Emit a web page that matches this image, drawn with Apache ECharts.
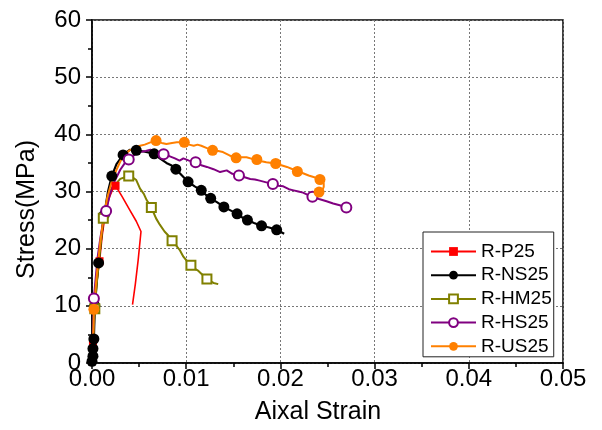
<!DOCTYPE html>
<html>
<head>
<meta charset="utf-8">
<script src="https://cdn.jsdelivr.net/npm/echarts@6/dist/echarts.min.js"></script>
<style>
  html, body { margin: 0; padding: 0; background: #fff; }
  #chart { width: 602px; height: 430px; }
</style>
</head>
<body>
<div id="chart"></div>
<script>
// strain / stress data
const seriesNames = ['R-P25', 'R-NS25', 'R-HM25', 'R-HS25', 'R-US25'];
const xTicks = ['0.00', '0.01', '0.02', '0.03', '0.04', '0.05'];
const yTicks = [0, 10, 20, 30, 40, 50, 60];

const pCurve = [[0,0],[0.0001,3.3],[0.0003,9.6],[0.0005,14],[0.0008,17.8],[0.0011,22.5],[0.0014,26],
  [0.0018,28.8],[0.0022,30.4],[0.0025,31.0],[0.0032,29.1],[0.0040,26.8],[0.0047,24.8],[0.0052,23.0],
  [0.0049,18.0],[0.0046,13.8],[0.0043,10.2]];
const pMarks = [[0.0001,3.3],[0.0008,17.8],[0.0025,31.0]];

const nsCurve = [[0,0],[0.0000,0.3],[0.0001,1.2],[0.0001,2.5],[0.0002,4.2],[0.0003,10.0],[0.0005,14.2],
  [0.0007,17.5],[0.0010,22.3],[0.0013,25.9],[0.0017,30.0],[0.0021,32.7],[0.0026,34.8],[0.0033,36.4],
  [0.0040,37.3],[0.0047,37.2],[0.0055,37.0],[0.0061,36.8],[0.0066,36.6],[0.0072,35.8],[0.0079,35.0],
  [0.0084,34.6],[0.0089,33.9],[0.0095,32.9],[0.0102,31.7],[0.0109,30.9],[0.0116,30.2],[0.0121,29.4],
  [0.0126,28.8],[0.0133,28.1],[0.0140,27.3],[0.0147,26.7],[0.0154,26.1],[0.0159,25.5],[0.0165,25.0],
  [0.0172,24.5],[0.0180,24.0],[0.0188,23.7],[0.0196,23.3],[0.0204,22.6]];
const nsMarks = [[0.0000,0.3],[0.0001,1.2],[0.0001,2.5],[0.0002,4.2],[0.0003,10.0],[0.0007,17.5],
  [0.0013,25.9],[0.0021,32.7],[0.0033,36.4],[0.0047,37.2],[0.0066,36.6],[0.0089,33.9],[0.0102,31.7],
  [0.0116,30.2],[0.0126,28.8],[0.0140,27.3],[0.0154,26.1],[0.0165,25.0],[0.0180,24.0],[0.0196,23.3]];

const hmCurve = [[0,0],[0.0001,3],[0.0003,9.5],[0.0005,13.8],[0.0007,17.2],[0.0010,22],[0.0012,25.3],
  [0.0016,28.5],[0.0020,30.3],[0.0025,31.3],[0.0030,32.2],[0.0035,32.5],[0.0039,32.7],[0.0043,32.5],
  [0.0047,32.0],[0.0051,30.5],[0.0055,29.6],[0.0058,28.5],[0.0063,27.2],[0.0068,25.3],[0.0072,24.2],
  [0.0077,23.0],[0.0081,22.3],[0.0085,21.4],[0.0089,20.6],[0.0093,19.8],[0.0097,18.6],[0.0101,17.8],
  [0.0105,17.1],[0.0109,16.5],[0.0113,16.1],[0.0118,15.3],[0.0122,14.7],[0.0126,14.3],[0.0129,14.0],
  [0.0134,13.8]];
const hmMarks = [[0.0003,9.5],[0.0012,25.3],[0.0039,32.7],[0.0063,27.2],[0.0085,21.4],[0.0105,17.1],[0.0122,14.7]];

const hsCurve = [[0,0],[0.0001,4],[0.0002,11.3],[0.0004,15],[0.0006,18.5],[0.0009,22],[0.0012,24.8],
  [0.0015,26.6],[0.0019,29.5],[0.0024,31.8],[0.0030,33.8],[0.0035,35.0],[0.0039,35.6],[0.0045,36.4],
  [0.0051,36.9],[0.0057,37.1],[0.0062,37.3],[0.0068,36.9],[0.0076,36.5],[0.0082,36.2],[0.0088,35.8],
  [0.0093,35.4],[0.0097,35.8],[0.0103,35.4],[0.0110,35.1],[0.0116,34.6],[0.0122,34.3],[0.0129,33.9],
  [0.0136,33.4],[0.0143,33.7],[0.0149,33.1],[0.0156,32.8],[0.0162,32.5],[0.0168,32.2],[0.0173,32.1],
  [0.0178,31.9],[0.0185,31.6],[0.0192,31.3],[0.0198,31.0],[0.0203,30.9],[0.0209,30.4],[0.0214,30.2],
  [0.0219,30.0],[0.0224,29.8],[0.0229,29.4],[0.0234,29.1],[0.0241,28.7],[0.0249,28.3],[0.0256,27.9],
  [0.0263,27.6],[0.0270,27.2]];
const hsMarks = [[0.0002,11.3],[0.0015,26.6],[0.0039,35.6],[0.0076,36.5],[0.0110,35.1],[0.0156,32.8],
  [0.0192,31.3],[0.0234,29.1],[0.0270,27.2]];

const usCurve = [[0,0],[0.0001,3],[0.0002,9.4],[0.0004,13.5],[0.0006,17],[0.0009,21.5],[0.0012,25],
  [0.0016,28.8],[0.0021,31.8],[0.0026,33.8],[0.0033,36.3],[0.0040,37.2],[0.0046,37.6],[0.0051,38.0],
  [0.0056,38.2],[0.0062,38.6],[0.0068,38.9],[0.0074,38.5],[0.0079,38.3],[0.0085,38.5],[0.0090,38.6],
  [0.0098,38.6],[0.0103,38.2],[0.0108,38.0],[0.0112,38.2],[0.0116,38.0],[0.0122,37.6],[0.0128,37.2],
  [0.0134,37.1],[0.0139,36.9],[0.0146,36.3],[0.0153,35.9],[0.0159,36.0],[0.0164,36.0],[0.0170,35.7],
  [0.0175,35.6],[0.0180,35.3],[0.0185,35.1],[0.0195,34.9],[0.0201,34.6],[0.0207,34.3],[0.0213,33.9],
  [0.0218,33.5],[0.0224,33.2],[0.0230,32.8],[0.0236,32.5],[0.0242,32.1],[0.0246,31.4],[0.0246,30.8],
  [0.0245,30.4],[0.0241,29.9]];
const usMarks = [[0.0002,9.4],[0.0068,38.9],[0.0098,38.6],[0.0128,37.2],[0.0153,35.9],[0.0175,35.6],
  [0.0195,34.9],[0.0218,33.5],[0.0242,32.1],[0.0241,29.9]];

const curves = [pCurve, nsCurve, hmCurve, hsCurve, usCurve];
const marks = [pMarks, nsMarks, hmMarks, hsMarks, usMarks];
const colors = ['#ff0000', '#000000', '#808000', '#800080', '#ff8000'];
const symbols = ['rect', 'circle', 'emptyRect', 'emptyCircle', 'circle'];
const symbolSizes = [8, 11, 9, 10, 11];
const lineWidths = [1.6, 2.2, 2, 2, 2];

const font = 'Liberation Sans, Arial, sans-serif';
const chart = echarts.init(document.getElementById('chart'));

let series = [];
// lines first so the legend picks up the line icon
seriesNames.forEach((name, i) => {
  series.push({
    name: name,
    type: 'line',
    data: curves[i],
    symbol: symbols[i],
    symbolSize: symbolSizes[i],
    showSymbol: false,
    color: colors[i],
    lineStyle: {width: lineWidths[i], color: colors[i]},
    itemStyle: {color: colors[i], borderWidth: 1.3},
    z: 2
  });
});
// markers on top of the lines
seriesNames.forEach((name, i) => {
  series.push({
    name: name,
    type: 'scatter',
    data: marks[i],
    symbol: symbols[i],
    symbolSize: symbolSizes[i],
    itemStyle: {color: colors[i], borderWidth: 1.3, opacity: 1},
    z: 3,
    silent: true
  });
});

const option = {
  backgroundColor: '#fff',
  animation: false,
  grid: {
    left: 92, right: 39, top: 20, bottom: 64,
    show: true, borderColor: '#000', borderWidth: 1.5
  },
  legend: {
    data: seriesNames,
    orient: 'vertical',
    left: 423,
    top: 232,
    padding: [10, 2, 1, 7],
    itemGap: 4.7,
    itemWidth: 45,
    itemHeight: 11,
    borderColor: '#222',
    borderWidth: 1,
    backgroundColor: '#fff',
    textStyle: {fontSize: 19, color: '#000', fontFamily: font}
  },
  xAxis: {
    type: 'value',
    min: 0, max: 0.05, interval: 0.01,
    name: 'Aixal Strain',
    nameLocation: 'middle',
    nameGap: 37,
    nameTextStyle: {fontSize: 25, color: '#000', fontFamily: font, padding: [0, 19, 0, 0]},
    axisLine: {lineStyle: {color: '#000', width: 1.5}},
    axisTick: {length: 6, lineStyle: {color: '#000', width: 1.5}},
    minorTick: {show: true, splitNumber: 2, length: 4, lineStyle: {color: '#000', width: 1.5}},
    splitLine: {show: true, lineStyle: {color: '#777', type: [2, 2], width: 1}},
    axisLabel: {
      fontSize: 24, color: '#000', fontFamily: font, margin: 4,
      formatter: v => xTicks[Math.round(v * 100)]
    }
  },
  yAxis: {
    type: 'value',
    min: 0, max: 60, interval: 10,
    name: 'Stress(MPa)',
    nameLocation: 'middle',
    nameGap: 52,
    nameTextStyle: {fontSize: 25, color: '#000', fontFamily: font, padding: [0, 36, 0, 0]},
    axisLine: {lineStyle: {color: '#000', width: 1.5}},
    axisTick: {length: 6, lineStyle: {color: '#000', width: 1.5}},
    minorTick: {show: true, splitNumber: 2, length: 4, lineStyle: {color: '#000', width: 1.5}},
    splitLine: {show: true, lineStyle: {color: '#777', type: [2, 2], width: 1}},
    axisLabel: {
      fontSize: 24, color: '#000', fontFamily: font, margin: 11,
      formatter: v => String(yTicks[Math.round(v / 10)])
    }
  },
  series: series
};
chart.setOption(option);
</script>
</body>
</html>
